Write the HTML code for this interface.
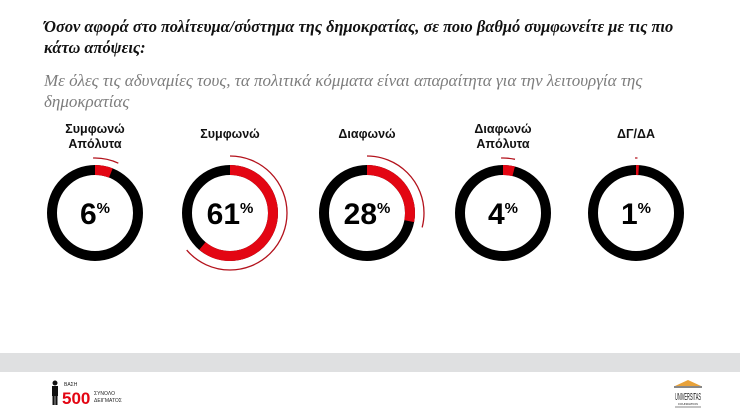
<!DOCTYPE html>
<html><head><meta charset="utf-8"><style>
body{margin:0;width:740px;height:416px;background:#fff;overflow:hidden;position:relative;font-family:"Liberation Sans","DejaVu Sans",sans-serif}
.t{position:absolute;left:44px;top:16px;font-family:"Liberation Serif",serif;font-style:italic;font-weight:bold;font-size:16.4px;line-height:21px;color:#111;width:680px;letter-spacing:0}
.s{position:absolute;left:44px;top:70px;font-family:"Liberation Serif",serif;font-style:italic;font-size:17px;line-height:21px;color:#7d7d7d;width:625px;letter-spacing:0}
.l{position:absolute;width:140px;text-align:center;font-weight:bold;font-size:12.5px;line-height:15px;color:#111}
.band{position:absolute;left:0;top:353px;width:740px;height:19px;background:#dfe0e1}
</style></head><body>
<div class="t">Όσον αφορά στο πολίτευμα/σύστημα της δημοκρατίας, σε ποιο βαθμό συμφωνείτε με τις πιο<br>κάτω απόψεις:</div>
<div class="s">Με όλες τις αδυναμίες τους, τα πολιτικά κόμματα είναι απαραίτητα για την λειτουργία της<br>δημοκρατίας</div>
<div class="l" style="left:25px;top:122px">Συμφωνώ<br>Απόλυτα</div>
<div class="l" style="left:160px;top:127px">Συμφωνώ</div>
<div class="l" style="left:297px;top:127px">Διαφωνώ</div>
<div class="l" style="left:433px;top:122px">Διαφωνώ<br>Απόλυτα</div>
<div class="l" style="left:566px;top:127px">ΔΓ/ΔΑ</div>
<svg width="740" height="416" style="position:absolute;left:0;top:0">
<g transform="translate(95,213)">
<circle r="43" fill="none" stroke="#000" stroke-width="10"/>
<circle r="43" fill="none" stroke="#e30613" stroke-width="10" stroke-dasharray="16.2 300" transform="rotate(-90)"/>
<circle r="55" fill="none" stroke="#b3121c" stroke-width="1.3" stroke-dasharray="26 400" transform="rotate(-92)"/>
<text y="11" text-anchor="middle" font-size="30" font-weight="bold">6<tspan font-size="15" dy="-11">%</tspan></text>
</g>
<g transform="translate(230,213)">
<circle r="43" fill="none" stroke="#000" stroke-width="10"/>
<circle r="43" fill="none" stroke="#e30613" stroke-width="10" stroke-dasharray="164.8 300" transform="rotate(-90)"/>
<circle r="57" fill="none" stroke="#b3121c" stroke-width="1.3" stroke-dasharray="228 400" transform="rotate(-90)"/>
<text y="11" text-anchor="middle" font-size="30" font-weight="bold">61<tspan font-size="15" dy="-11">%</tspan></text>
</g>
<g transform="translate(367,213)">
<circle r="43" fill="none" stroke="#000" stroke-width="10"/>
<circle r="43" fill="none" stroke="#e30613" stroke-width="10" stroke-dasharray="75.6 300" transform="rotate(-90)"/>
<circle r="57" fill="none" stroke="#b3121c" stroke-width="1.3" stroke-dasharray="104 400" transform="rotate(-90)"/>
<text y="11" text-anchor="middle" font-size="30" font-weight="bold">28<tspan font-size="15" dy="-11">%</tspan></text>
</g>
<g transform="translate(503,213)">
<circle r="43" fill="none" stroke="#000" stroke-width="10"/>
<circle r="43" fill="none" stroke="#e30613" stroke-width="10" stroke-dasharray="10.8 300" transform="rotate(-90)"/>
<circle r="55" fill="none" stroke="#b3121c" stroke-width="1.3" stroke-dasharray="14 400" transform="rotate(-92)"/>
<text y="11" text-anchor="middle" font-size="30" font-weight="bold">4<tspan font-size="15" dy="-11">%</tspan></text>
</g>
<g transform="translate(636,213)">
<circle r="43" fill="none" stroke="#000" stroke-width="10"/>
<circle r="43" fill="none" stroke="#e30613" stroke-width="10" stroke-dasharray="2.7 300" transform="rotate(-90)"/>
<circle r="55" fill="none" stroke="#b3121c" stroke-width="1.3" stroke-dasharray="2.5 400" transform="rotate(-91)"/>
<text y="11" text-anchor="middle" font-size="30" font-weight="bold">1<tspan font-size="15" dy="-11">%</tspan></text>
</g>
<g fill="#111">
<circle cx="55" cy="383" r="2.5"/>
<rect x="52" y="386" width="6" height="10"/>
<rect x="52.5" y="395" width="2.2" height="10"/>
<rect x="55.3" y="395" width="2.2" height="10"/>
</g>
<text x="64" y="386" font-size="5" fill="#222">ΒΑΣΗ</text>
<text x="62" y="404" font-size="17" font-weight="bold" fill="#e30613">500</text>
<text x="94" y="395" font-size="5" fill="#222">ΣΥΝΟΛΟ</text>
<text x="94" y="402" font-size="5" fill="#222">ΔΕΙΓΜΑΤΟΣ</text>
<polygon points="675,386 688,380 701,386" fill="#e8a23a"/>
<line x1="674" y1="387" x2="702" y2="387" stroke="#111" stroke-width="1"/>
<text x="688" y="400" text-anchor="middle" font-size="10" fill="#111" textLength="26" lengthAdjust="spacingAndGlyphs">UNIVERSITAS</text>
<text x="688" y="405" text-anchor="middle" font-size="3" fill="#111">FOUNDATION</text>
<line x1="675" y1="407" x2="701" y2="407" stroke="#111" stroke-width="0.6"/>
</svg>
<div class="band"></div>
</body></html>
